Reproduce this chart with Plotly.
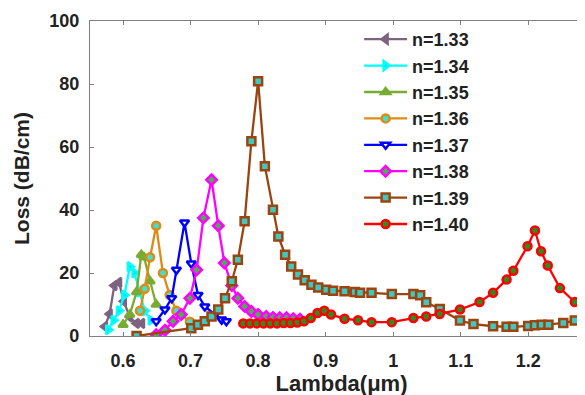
import plotly.graph_objects as go

# ---- data ----
x133 = [0.573, 0.580, 0.587, 0.594, 0.601, 0.610, 0.620, 0.628]
y133 = [3, 7, 16, 17, 11, 6, 4, 4]

x134 = [0.578, 0.586, 0.594, 0.602, 0.610, 0.617, 0.624, 0.632, 0.641]
y134 = [2, 5, 8, 13, 22, 20, 14, 8, 5]

x135 = [0.600, 0.610, 0.620, 0.627, 0.631, 0.640, 0.649]
y135 = [3.6, 6.8, 14, 25.8, 25, 17.4, 10]

x136 = [0.625, 0.632, 0.640, 0.649, 0.659, 0.669, 0.679, 0.699]
y136 = [8, 15, 25, 35, 20, 13, 8, 4.5]

x137 = [0.649, 0.662, 0.672, 0.679, 0.691, 0.701, 0.711, 0.721, 0.736, 0.746, 0.753]
y137 = [4.7, 8.4, 12, 21, 36, 23, 13, 9.4, 6.8, 5.2, 4.7]

x138 = [0.649, 0.662, 0.674, 0.686, 0.699, 0.709, 0.719, 0.731, 0.741, 0.750,
        0.761, 0.770, 0.780, 0.790, 0.800, 0.812, 0.822, 0.832, 0.842, 0.852, 0.862]
y138 = [0.4, 1.8, 4.7, 6.8, 12, 21, 37.5, 49.6, 35, 23.2,
        16, 12, 9.4, 7.8, 6.8, 6.2, 5.9, 5.8, 5.8, 5.5, 5.3]

x139 = [0.620, 0.701, 0.711, 0.721, 0.731, 0.741, 0.751, 0.761, 0.770, 0.780,
        0.790, 0.800, 0.810, 0.822, 0.830, 0.840, 0.849, 0.859, 0.869, 0.879,
        0.889, 0.901, 0.911, 0.928, 0.943, 0.951, 0.968, 0.998, 1.030, 1.040,
        1.049, 1.069, 1.099, 1.119, 1.148, 1.168, 1.178, 1.200, 1.210, 1.220,
        1.230, 1.252, 1.269]
y139 = [0, 2.5, 3.6, 4.7, 6.2, 8.4, 12, 17.4, 24.2, 36.4,
        61.8, 80.9, 53.9, 40.1, 31.6, 25.8, 22.1, 19.5, 17.7, 16.3,
        15.4, 14.7, 14.4, 14.2, 14, 13.7, 13.7, 13.3, 13.3, 12.9,
        10.7, 8.6, 4.9, 3.8, 3.1, 2.9, 2.9, 3.2, 3.4, 3.6,
        3.6, 4.1, 4.9]

x140 = [0.778, 0.788, 0.798, 0.808, 0.818, 0.828, 0.838, 0.848, 0.858, 0.868,
        0.878, 0.888, 0.898, 0.908, 0.928, 0.948, 0.968, 0.998, 1.030, 1.049,
        1.069, 1.099, 1.128, 1.148, 1.168, 1.178, 1.199, 1.210, 1.219, 1.229,
        1.247, 1.269]
y140 = [4, 4, 4, 4, 4, 4, 4.1, 4.1, 4.3, 4.7,
        5.7, 7.3, 8, 6.8, 5.5, 5, 4.4, 4.4, 5.7, 6.2,
        7, 8.4, 10.8, 13.7, 17.9, 20.7, 28.5, 33.5, 26.9, 22.4,
        15.2, 10.8]

x_ticks = [0.6, 0.7, 0.8, 0.9, 1.0, 1.1, 1.2]
x_tick_text = ["0.6", "0.7", "0.8", "0.9", "1", "1.1", "1.2"]
y_ticks = [0, 20, 40, 60, 80, 100]

series = [
    ("n=1.33", x133, y133, "#7E6381", "#7E6381", "triangle-left"),
    ("n=1.34", x134, y134, "#00FFFF", "#00E5E5", "triangle-right"),
    ("n=1.35", x135, y135, "#77AC30", "#77AC30", "triangle-up"),
    ("n=1.36", x136, y136, "#E08A16", "#40E0D0", "circle"),
    ("n=1.37", x137, y137, "#0000FF", "#FFFFFF", "triangle-down"),
    ("n=1.38", x138, y138, "#FF00FF", "#4CB050", "diamond"),
    ("n=1.39", x139, y139, "#9C4410", "#40C8C0", "square"),
    ("n=1.40", x140, y140, "#FF0000", "#2E8B22", "circle"),
]

FONT = "Arial, Liberation Sans, sans-serif"

fig = go.Figure()
for name, xs, ys, col, face, sym in series:
    fig.add_trace(go.Scatter(
        x=xs, y=ys, name=name, mode="lines+markers",
        line=dict(color=col, width=2.3),
        marker=dict(symbol=sym, size=8, color=face,
                    line=dict(color=col, width=2.5)),
    ))

axis_common = dict(
    showline=True, linecolor="#808080", linewidth=1.2, mirror="ticks",
    ticks="inside", ticklen=4, tickcolor="#808080",
    showgrid=False, zeroline=False,
    tickfont=dict(family=FONT, size=18, color="#222222", weight="bold"),
)

fig.update_layout(
    width=585, height=395,
    margin=dict(l=82, r=0, t=13, b=67),
    paper_bgcolor="white", plot_bgcolor="white",
    showlegend=True,
    legend=dict(
        x=0.535, y=1.0, xanchor="left", yanchor="top",
        bgcolor="rgba(0,0,0,0)",
        font=dict(family=FONT, size=18, color="#222222", weight="bold"),
        itemwidth=43, tracegroupgap=0,
    ),
    xaxis=dict(
        range=[0.551, 1.296], tickvals=x_ticks, ticktext=x_tick_text,
        ticklabelstandoff=8,
        title=dict(text="Lambda(\u03bcm)", standoff=4,
                   font=dict(family=FONT, size=22, color="#222222", weight="bold")),
        **axis_common,
    ),
    yaxis=dict(
        range=[0, 100], tickvals=y_ticks,
        ticklabelstandoff=6,
        title=dict(text="Loss (dB/cm)", standoff=13,
                   font=dict(family=FONT, size=21, color="#222222", weight="bold")),
        **axis_common,
    ),
)

fig.write_html("out.html")
